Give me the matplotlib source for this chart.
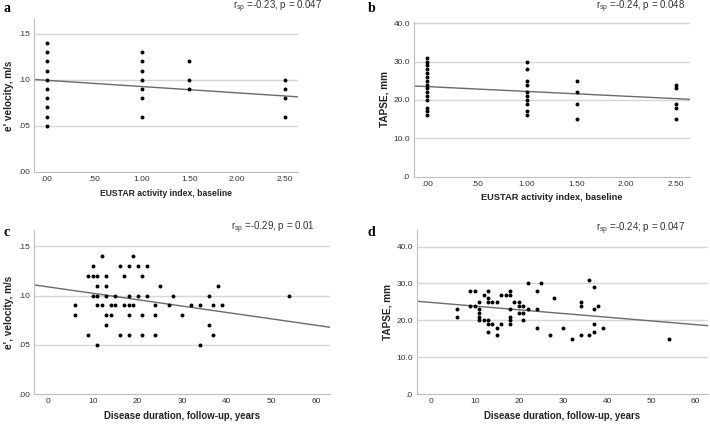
import numpy as np
import matplotlib
matplotlib.use('Agg')
import matplotlib.pyplot as plt

plt.rcParams['font.family'] = ['Liberation Sans', 'DejaVu Sans']
plt.rcParams['mathtext.fontset'] = 'custom'
plt.rcParams['mathtext.rm'] = 'Liberation Sans'
plt.rcParams['mathtext.it'] = 'Liberation Sans:italic'

# panel a: EUSTAR vs e' velocity
a_x = [0]*10 + [1]*7 + [1.5]*3 + [2.5]*4
a_y = [.14, .13, .12, .11, .10, .09, .08, .07, .06, .05,
       .13, .12, .11, .10, .09, .08, .06,
       .12, .10, .09,
       .10, .09, .08, .06]
a_fit = [0.0995, -0.0068]  # intercept, slope

# panel b: EUSTAR vs TAPSE
b_x = [0]*15 + [1]*10 + [1.5]*4 + [2.5]*5
b_y = [31, 30, 29, 28, 27, 26, 25, 24, 23, 22, 21, 20, 18, 17, 16,
       30, 28, 25, 24, 22, 21, 20, 19, 17, 16,
       25, 22, 19, 15,
       24, 23, 19, 18, 15]
b_fit = [23.48, -1.254]

# panel c: disease duration vs e' velocity
c_x = [6, 6, 9, 9, 10, 10, 10, 11, 11, 11, 11, 11, 12, 12, 13, 13, 13, 13, 13,
       14, 14, 15, 15, 16, 16, 17, 17, 18, 18, 18, 18, 18, 19, 19, 20, 20,
       21, 21, 21, 22, 22, 24, 24, 24, 25, 27, 28, 30, 32, 34, 34, 36, 36,
       37, 37, 38, 39, 54]
c_y = [.09, .08, .06, .12, .13, .12, .10, .12, .11, .10, .09, .05, .14, .09,
       .12, .11, .10, .08, .07, .09, .08, .10, .09, .13, .06, .12, .09,
       .13, .10, .09, .08, .06, .14, .09, .13, .10, .12, .08, .06, .13, .10,
       .09, .08, .06, .11, .09, .10, .08, .09, .09, .05, .10, .07, .09, .06,
       .11, .09, .10]
c_fit = [0.1087, -0.000647]

# panel d: disease duration vs TAPSE
d_x = [6, 6, 9, 10, 9, 10, 11, 11, 11, 11, 11, 12, 12, 13, 13, 13, 13, 13, 13,
       14, 14, 15, 15, 15, 16, 16, 17, 18, 18, 18, 18, 18, 18, 19, 20, 20, 20,
       21, 21, 21, 22, 22, 24, 24, 24, 25, 28, 27, 30, 32, 34, 34, 34, 36, 36,
       37, 37, 37, 37, 38, 39, 54]
d_y = [23, 21, 28, 28, 24, 24, 25, 23, 22, 21, 20, 27, 20, 28, 26, 25, 20, 19, 17,
       25, 19, 25, 18, 16, 19, 27, 27, 28, 27, 23, 21, 20, 19, 25, 25, 24, 22,
       24, 22, 20, 30, 23, 28, 23, 18, 30, 26, 16, 18, 15, 25, 24, 16, 31, 16,
       29, 23, 19, 17, 24, 18, 15]
d_fit = [24.88, -0.1002]

eustar_ticks = [0, 0.5, 1.0, 1.5, 2.0, 2.5]
eustar_labels = ['.00', '.50', '1.00', '1.50', '2.00', '2.50']
dur_ticks = [0, 10, 20, 30, 40, 50, 60]
vel_ticks = [0, .05, .10, .15]
vel_labels = ['.00', '.05', '.10', '.15']
tapse_ticks = [0, 10, 20, 30, 40]
tapse_labels = ['.0', '10.0', '20.0', '30.0', '40.0']

W, H = 710, 424
fig = plt.figure(figsize=(W/100, H/100), dpi=100)


def panel(rect, x, y, fit, xlim, ylim, xt, xtl, yt, ytl, xlabel, ylabel, lsize):
    ax = fig.add_axes(rect)
    ax.set_xlim(xlim)
    ax.set_ylim(ylim)
    for yy in yt[1:]:
        ax.axhline(yy, color='#d6d6d6', lw=1.0, zorder=0)
    ax.scatter(x, y, s=8, color='black', zorder=3, linewidths=0)
    xs = np.array(xlim)
    ax.plot(xs, fit[0] + fit[1]*xs, color='#6a6a6a', lw=1.0, zorder=2)
    for s in ['top', 'right']:
        ax.spines[s].set_visible(False)
    for s in ['left', 'bottom']:
        ax.spines[s].set_color('#bdbdbd')
        ax.spines[s].set_linewidth(0.8)
    ax.set_xticks(xt)
    ax.set_xticklabels(xtl)
    ax.set_yticks(yt)
    ax.set_yticklabels(ytl)
    ax.tick_params(length=0, labelsize=6, colors='#333333', pad=3)
    ax.set_xlabel(xlabel, fontsize=lsize, fontweight='bold', color='#222222', labelpad=4)
    ax.set_ylabel(ylabel, fontsize=7.2, fontweight='bold', color='#222222', labelpad=3)
    return ax


panel([34/W, 1-172/H, 264/W, 153/H], a_x, a_y, a_fit, (-0.133, 2.64), (0, 0.166),
      eustar_ticks, eustar_labels, vel_ticks, vel_labels,
      'EUSTAR activity index, baseline', "e' velocity, m/s", 6.2)
panel([414/W, 1-176.7/H, 276/W, 155/H], b_x, b_y, b_fit, (-0.134, 2.64), (0, 40.4),
      eustar_ticks, eustar_labels, tapse_ticks, tapse_labels,
      'EUSTAR activity index, baseline', 'TAPSE, mm', 6.7)
panel([34/W, 1-394.3/H, 296/W, 164/H], c_x, c_y, c_fit, (-3.2, 63.1), (0, 0.166),
      dur_ticks, [str(t) for t in dur_ticks], vel_ticks, vel_labels,
      'Disease duration, follow-up, years', "e', velocity, m/s", 6.9)
panel([417/W, 1-394.3/H, 290.7/W, 164/H], d_x, d_y, d_fit, (-3.1, 62.8), (0, 44.4),
      dur_ticks, [str(t) for t in dur_ticks], tapse_ticks, tapse_labels,
      'Disease duration, follow-up, years', 'TAPSE, mm', 6.9)

# annotations
ann = [(322, 7, r'r$_{\rm sp}$ =-0.23, p = 0.047'),
       (685, 7, r'r$_{\rm sp}$ =-0.24, p = 0.048'),
       (315, 228, r'r$_{\rm sp}$ =-0.29, p = 0.01'),
       (685, 229, r'r$_{\rm sp}$ =-0.24; p = 0.047')]
for px, py, t in ann:
    fig.text(px/W, 1-py/H, t, ha='right', va='center', fontsize=7, color='#333333')

letters = [(4, 9, 'a'), (368, 9, 'b'), (4, 232, 'c'), (368, 232, 'd')]
for px, py, t in letters:
    fig.text(px/W, 1-py/H, t, ha='left', va='center', fontsize=10, fontweight='bold',
             family=['Liberation Serif', 'DejaVu Serif'])

fig.savefig('out.png', dpi=100, facecolor='white')
